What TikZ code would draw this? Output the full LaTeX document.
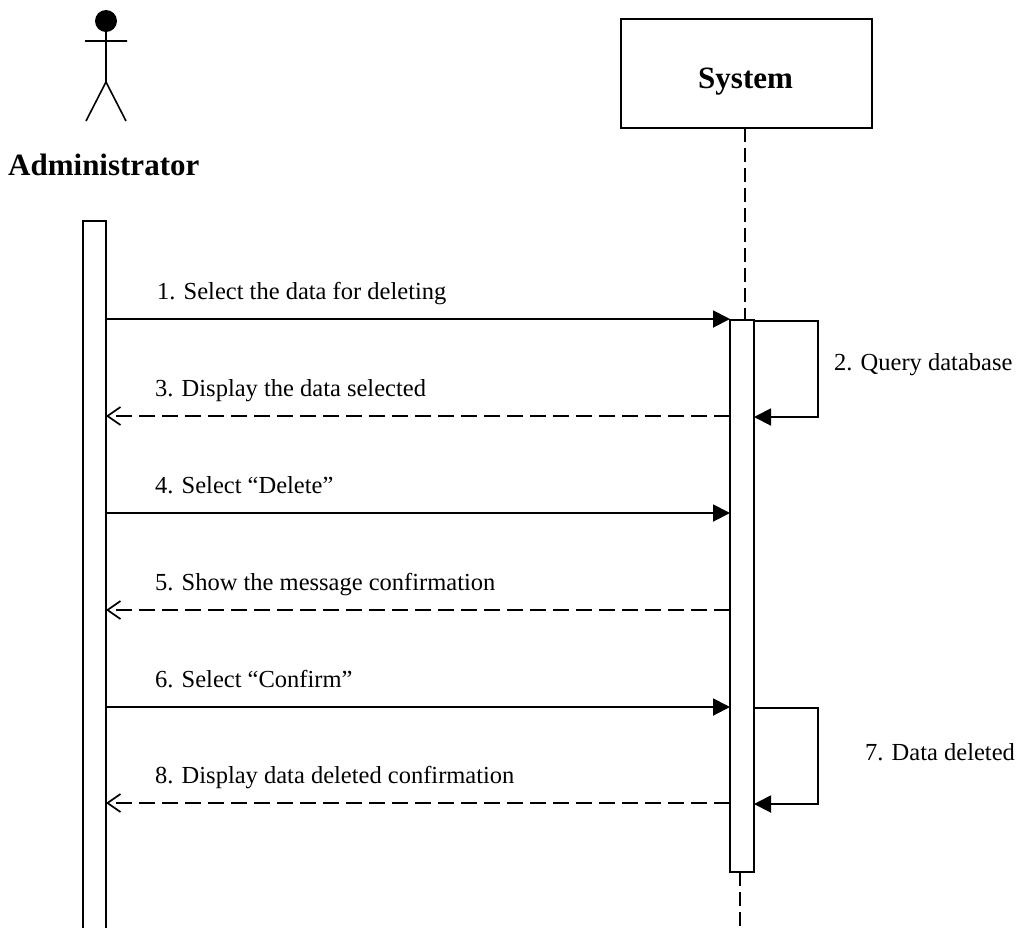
\documentclass[tikz,border=0pt]{standalone}
\usepackage{fontspec}
\setmainfont{Liberation Serif}
\usetikzlibrary{arrows.meta}
\begin{document}
\begin{tikzpicture}[x=1pt,y=-1pt,
  msgline/.style={line width=1.9pt,-{Triangle[length=17pt,width=17pt]}},
  retline/.style={line width=1.5pt,dash pattern=on 16pt off 7pt,-{Straight Barb[length=13pt,width=18pt,line width=1.7pt]}},
  lifeline/.style={line width=1.4pt,dash pattern=on 14pt off 6pt},
  bar/.style={draw,line width=1.3pt,fill=white},
  lbl/.style={anchor=base west,inner sep=0pt,font=\fontsize{24.5}{28}\selectfont},
  title/.style={anchor=base west,inner sep=0pt,font=\fontsize{31}{36}\selectfont\bfseries}]
\useasboundingbox (0,0) rectangle (1019,927);
\fill[white] (0,0) rectangle (1019,927);
% actor
\fill (106,21) circle (11);
\draw[line width=1.6pt] (106,21) -- (106,82) (85,41) -- (127,41) (86,121) -- (106,82) -- (126,121);
\node[title] (admin) at (8,175) {Administrator};
% system
\node[draw,line width=1.6pt,minimum width=251pt,minimum height=109pt,inner sep=0pt] (sys) at (746.5,73.5) {};
\node[title] (systxt) at (698,88) {System};
% lifelines
\coordinate (lt) at (745,128);
\coordinate (lb) at (745,320);
\coordinate (lt2) at (740,872);
\coordinate (lb2) at (740,927);
\draw[lifeline] (lt) -- (lb);
\draw[lifeline] (lt2) -- (lb2);
% activation bars
\draw[bar] (83,221) rectangle (106,940);
\draw[bar] (730,320) rectangle (754,872);
% coordinates
\foreach \n/\y in {1/319,3/416,4/513,5/610,6/707,8/803} {
  \coordinate (a\n) at (106,\y);
  \coordinate (s\n) at (730,\y);
}
\coordinate (q1) at (754,321);
\coordinate (q2) at (818,321);
\coordinate (q3) at (818,417);
\coordinate (q4) at (754,417);
\coordinate (d1) at (754,708);
\coordinate (d2) at (818,708);
\coordinate (d3) at (818,804);
\coordinate (d4) at (754,804);
% messages
\draw[msgline] (a1) -- (s1);
\node[lbl] (m1) at (157,299) {1. Select the data for deleting};
\draw[msgline] (q1) -- (q2) -- (q3) -- (q4);
\node[lbl] (m2) at (834,370) {2. Query database};
\draw[retline] (s3) -- (a3);
\node[lbl] (m3) at (155,396) {3. Display the data selected};
\draw[msgline] (a4) -- (s4);
\node[lbl] (m4) at (155,493) {4. Select “Delete”};
\draw[retline] (s5) -- (a5);
\node[lbl] (m5) at (155,590) {5. Show the message confirmation};
\draw[msgline] (a6) -- (s6);
\node[lbl] (m6) at (155,687) {6. Select “Confirm”};
\draw[msgline] (d1) -- (d2) -- (d3) -- (d4);
\node[lbl] (m7) at (865,760) {7. Data deleted};
\draw[retline] (s8) -- (a8);
\node[lbl] (m8) at (155,783) {8. Display data deleted confirmation};
\end{tikzpicture}
\end{document}
